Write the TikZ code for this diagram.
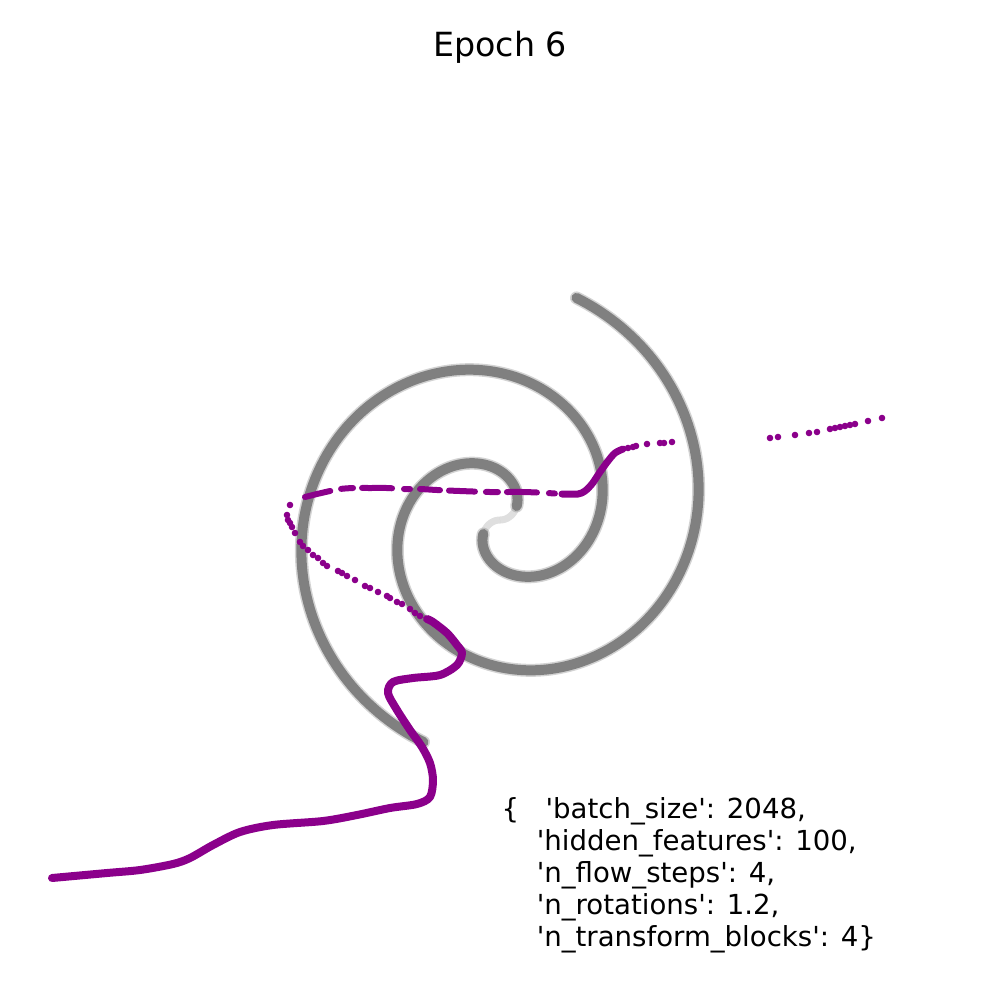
\documentclass[tikz,border=0pt]{standalone}
\usepackage{fontspec}
\setmainfont{DejaVu Sans}
\usepackage{tikz}
\definecolor{flowpurple}{RGB}{139,0,139}
\definecolor{spiralgray}{RGB}{128,128,128}
\newcommand{\qt}{\textquotesingle}

\begin{document}
\begin{tikzpicture}[x=0.1mm,y=-0.1mm,
		spiralarm/.style={spiralgray,line width=1.0mm,line cap=round},
		spiralhalo/.style={spiralgray,opacity=0.35,line width=1.3mm,line cap=round},
		flowline/.style={flowpurple,line width=0.8mm,line cap=round,line join=round},
		flowdot/.style={flowpurple}]
	\useasboundingbox (0,0) rectangle (1000,1000);

	%% title
	\node[anchor=base,inner sep=0,font=\fontsize{9.47}{11}\selectfont] (title) at (500,56) {Epoch 6};

	%% target spiral, two arms
	\draw[spiralgray,opacity=0.25,line width=0.7mm] plot[domain=0:40,samples=20] ({500+0.545*\x*cos(\x)},{520-0.545*\x*sin(\x)});
	\draw[spiralgray,opacity=0.25,line width=0.7mm] plot[domain=0:40,samples=20] ({500-0.545*\x*cos(\x)},{520+0.545*\x*sin(\x)});
	\draw[spiralhalo] plot[domain=40:431,samples=240] ({500+0.545*\x*cos(\x)},{520-0.545*\x*sin(\x)});
	\draw[spiralhalo] plot[domain=40:431,samples=240] ({500-0.545*\x*cos(\x)},{520+0.545*\x*sin(\x)});
	\draw[spiralarm] plot[domain=40:431,samples=240] ({500+0.545*\x*cos(\x)},{520-0.545*\x*sin(\x)});
	\draw[spiralarm] plot[domain=40:431,samples=240] ({500-0.545*\x*cos(\x)},{520+0.545*\x*sin(\x)});

	%% flow samples, dense part
	\draw[flowline] plot[smooth,tension=0.5] coordinates {(52,878) (107,873) (140,870) (173,864) (190,858) (213,845) (240,832) (273,825) (323,821) (357,815) (390,808) (417,804) (430,797) (433,780) (430,763) (422,747) (410,730) (397,710) (388,693) (393,682) (413,678) (440,675) (457,665) (462,653) (457,645) (447,633) (433,622) (427,619)};
	% upper line, broken
	\draw[flowline,line width=0.6mm,dash pattern=on 2.6mm off 1.1mm on 1.2mm off 0.9mm on 3.0mm off 1.2mm on 0.6mm off 1.0mm on 2.0mm off 0.9mm] plot[smooth,tension=0.5] coordinates {(305,497) (317,494) (330,491) (340,489) (353,488) (370,488) (387,488) (403,489) (420,489) (437,490) (460,491) (490,492) (523,492) (547,493) (562,494)};
	\draw[flowline,line width=0.7mm] plot[smooth,tension=0.5] coordinates {(562,494) (578,494) (585,491) (592,484) (600,472) (608,461) (615,453) (623,449)};
	% loose samples
	\foreach \p in {(420,616),(415,613),(410,609),(402,604),(397,602),(390,598),(387,596),(378,592),(370,588),(365,586),(355,580),(347,576),(342,573),(338,571),(327,566),(323,563),(318,558),(313,555),(308,550),(303,546),(300,542),(295,533),(292,527),(290,523),(288,520),(287,515),(290,505),
			(628,448),(633,447),(636,446),(647,444),(660,443),(664,443),(672,442),
			(770,438),(778,437),(795,435),(809,433),(817,432),(830,429),(835,428),(840,427),(845,426),(850,425),(855,424),(868,421),(882,418)}
		\fill[flowdot] \p circle (0.33mm);

	%% run settings
	\node[anchor=base west,inner sep=0,align=left,font=\fontsize{7.85}{9.14}\selectfont] (params) at (501,946.7)
		{\{\ \ \ \qt batch\_size\qt: 2048,\\
		\ \ \ \ \qt hidden\_features\qt: 100,\\
		\ \ \ \ \qt n\_flow\_steps\qt: 4,\\
		\ \ \ \ \qt n\_rotations\qt: 1.2,\\
		\ \ \ \ \qt n\_transform\_blocks\qt: 4\}};
\end{tikzpicture}
\end{document}
